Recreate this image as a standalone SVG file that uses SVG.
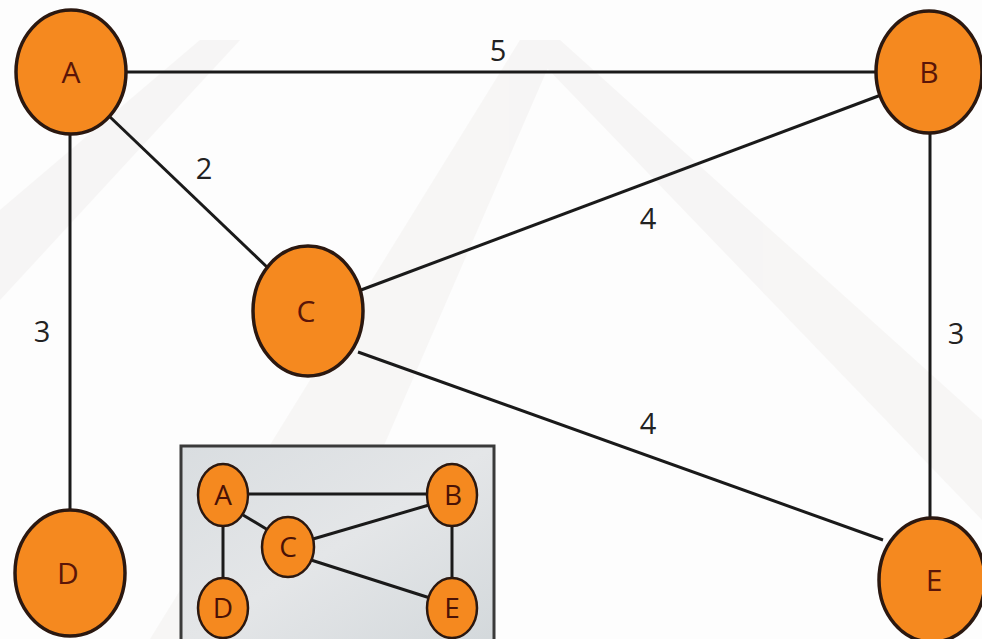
<svg xmlns="http://www.w3.org/2000/svg" width="982" height="639" viewBox="0 0 982 639">
  <defs>
    <linearGradient id="insetFill" x1="0" y1="0" x2="1" y2="1">
      <stop offset="0" stop-color="#d9dde0"/>
      <stop offset="0.5" stop-color="#e4e6e8"/>
      <stop offset="1" stop-color="#d3d8db"/>
    </linearGradient>
  </defs>
  <style>
    .node { fill: #f5891f; stroke: #2b1810; stroke-width: 3.5; }
    .mini { fill: #f5891f; stroke: #2b1810; stroke-width: 2.5; }
    .edge { stroke: #1a1a1a; stroke-width: 3; fill: none; }
    .mini-edge { stroke: #1a1a1a; stroke-width: 3; fill: none; }
    .label { font-family: "Open Sans", "DejaVu Sans", sans-serif; font-size: 30px; fill: #5a1508; text-anchor: middle; }
    .mini-label { font-family: "Open Sans", "DejaVu Sans", sans-serif; font-size: 28px; fill: #4a1206; text-anchor: middle; }
    .weight { font-family: "Open Sans", "DejaVu Sans", sans-serif; font-size: 29px; fill: #222; text-anchor: middle; }
  </style>

  <!-- page background with faint backdrop shapes -->
  <rect width="982" height="639" fill="#fdfdfd"/>
  <g fill="#f3f1f0" opacity="0.6">
    <polygon points="150,639 520,40 560,40 300,639"/>
    <polygon points="520,40 560,40 982,420 982,520"/>
    <polygon points="0,210 200,40 240,40 0,300"/>
  </g>

  <!-- connectors -->
  <g id="connectors">
    <line class="edge" x1="126" y1="72" x2="877" y2="72"/>
    <line class="edge" x1="109" y1="116" x2="268" y2="268"/>
    <line class="edge" x1="70" y1="134" x2="70" y2="510"/>
    <line class="edge" x1="361" y1="290" x2="881" y2="95"/>
    <line class="edge" x1="358" y1="352" x2="883" y2="540"/>
    <line class="edge" x1="930" y1="133" x2="930" y2="518"/>
    <text class="weight" x="498" y="61">5</text>
    <text class="weight" x="204" y="179">2</text>
    <text class="weight" x="42" y="342">3</text>
    <text class="weight" x="648" y="229">4</text>
    <text class="weight" x="648" y="434">4</text>
    <text class="weight" x="956" y="344">3</text>
  </g>

  <!-- nodes -->
  <g id="node-A">
    <ellipse class="node" cx="71" cy="72" rx="55" ry="62"/>
    <text class="label" x="71" y="83">A</text>
  </g>
  <g id="node-B">
    <ellipse class="node" cx="929" cy="72" rx="53" ry="61"/>
    <text class="label" x="929" y="83">B</text>
  </g>
  <g id="node-C">
    <ellipse class="node" cx="308" cy="311" rx="55" ry="65"/>
    <text class="label" x="306" y="322">C</text>
  </g>
  <g id="node-D">
    <ellipse class="node" cx="70" cy="573" rx="55" ry="63"/>
    <text class="label" x="68" y="584">D</text>
  </g>
  <g id="node-E">
    <ellipse class="node" cx="932" cy="580" rx="53" ry="62"/>
    <text class="label" x="934" y="591">E</text>
  </g>

  <!-- inset overview -->
  <g id="inset">
    <rect x="181" y="446" width="313" height="200" fill="url(#insetFill)" stroke="#3a3a3a" stroke-width="3"/>
    <g id="inset-connectors">
      <line class="mini-edge" x1="247" y1="494" x2="428" y2="494"/>
      <line class="mini-edge" x1="243" y1="515" x2="268" y2="530"/>
      <line class="mini-edge" x1="223" y1="526" x2="223" y2="578"/>
      <line class="mini-edge" x1="313" y1="539" x2="429" y2="505"/>
      <line class="mini-edge" x1="311" y1="560" x2="430" y2="598"/>
      <line class="mini-edge" x1="452" y1="526" x2="452" y2="578"/>
    </g>
    <g id="inset-node-A">
      <ellipse class="mini" cx="223" cy="495" rx="25" ry="31"/>
      <text class="mini-label" x="223" y="505">A</text>
    </g>
    <g id="inset-node-B">
      <ellipse class="mini" cx="452" cy="495" rx="25" ry="31"/>
      <text class="mini-label" x="453" y="505">B</text>
    </g>
    <g id="inset-node-C">
      <ellipse class="mini" cx="288" cy="547" rx="26" ry="30"/>
      <text class="mini-label" x="288" y="557">C</text>
    </g>
    <g id="inset-node-D">
      <ellipse class="mini" cx="223" cy="608" rx="25" ry="30"/>
      <text class="mini-label" x="223" y="618">D</text>
    </g>
    <g id="inset-node-E">
      <ellipse class="mini" cx="452" cy="608" rx="25" ry="30"/>
      <text class="mini-label" x="452" y="618">E</text>
    </g>
  </g>
</svg>
